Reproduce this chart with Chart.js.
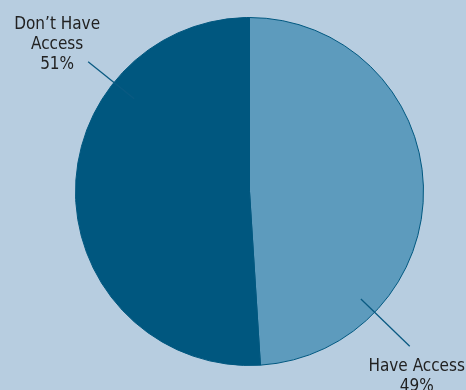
<!DOCTYPE html>
<html>
<head>
<meta charset="utf-8">
<script src="https://cdn.jsdelivr.net/npm/chart.js@4/dist/chart.umd.min.js"></script>
<style>
  html, body { margin: 0; padding: 0; background: #b7cde0; }
  #wrap { width: 466px; height: 390px; position: relative; }
</style>
</head>
<body>
<div id="wrap"><canvas id="chart" width="466" height="390"></canvas></div>
<script>
// Share of respondents with / without access
const categories = ['Have Access', "Don\u2019t Have Access"];
const shares = [49, 51];
const labelLines = [['Have Access', '49%'], ['Don\u2019t Have', 'Access', '51%']];
const sliceColors = ['#5d9bbd', '#00577f'];

// Callout placement per slice: leader angle (canvas radians), leader start/end
// as multiples of the radius, and offset of the first text baseline from the
// leader's outer end.
const callouts = [
  { angle: 44 * Math.PI / 180, r0: 0.89, r1: 1.28, dx: 7, dy: 25 },
  { angle: 218.8 * Math.PI / 180, r0: 0.85, r1: 1.19, dx: -31, dy: -33 }
];
const lineGap = 20;

const calloutPlugin = {
  id: 'callouts',
  afterDatasetsDraw(chart) {
    const ctx = chart.ctx;
    const arcs = chart.getDatasetMeta(0).data;
    arcs.forEach((arc, i) => {
      const c = callouts[i];
      const { x, y, outerRadius } = arc.getProps(['x', 'y', 'outerRadius'], true);
      const x0 = x + Math.cos(c.angle) * outerRadius * c.r0;
      const y0 = y + Math.sin(c.angle) * outerRadius * c.r0;
      const x1 = x + Math.cos(c.angle) * outerRadius * c.r1;
      const y1 = y + Math.sin(c.angle) * outerRadius * c.r1;
      ctx.save();
      ctx.strokeStyle = '#0a5a82';
      ctx.lineWidth = 1.3;
      ctx.beginPath();
      ctx.moveTo(x0, y0);
      ctx.lineTo(x1, y1);
      ctx.stroke();

      ctx.fillStyle = '#222222';
      ctx.font = '17px "DejaVu Sans Condensed", "DejaVu Sans", sans-serif';
      ctx.textAlign = 'center';
      ctx.textBaseline = 'alphabetic';
      labelLines[i].forEach((t, k) => {
        ctx.fillText(t, x1 + c.dx, y1 + c.dy + k * lineGap);
      });
      ctx.restore();
    });
  }
};

new Chart(document.getElementById('chart'), {
  type: 'pie',
  data: {
    labels: categories,
    datasets: [{
      data: shares,
      backgroundColor: sliceColors,
      borderColor: '#00577f',
      borderWidth: 1
    }]
  },
  options: {
    responsive: false,
    animation: false,
    layout: { padding: { top: 17, bottom: 24, left: 75, right: 42 } },
    plugins: {
      legend: { display: false },
      tooltip: { enabled: false }
    }
  },
  plugins: [calloutPlugin]
});
</script>
</body>
</html>
